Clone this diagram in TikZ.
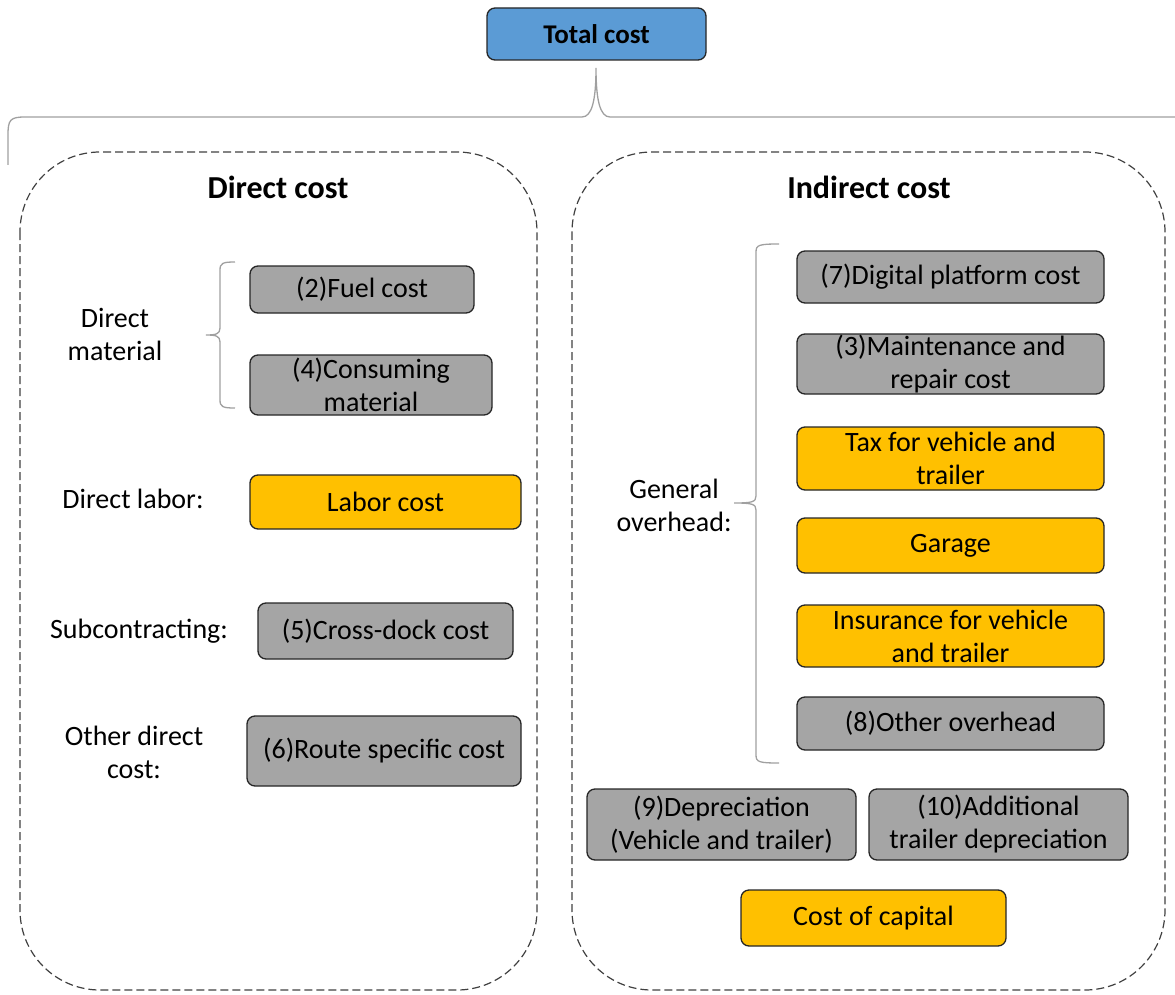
\documentclass[tikz,border=0pt]{standalone}
\usepackage{fontspec}
\setmainfont{Carlito}
\definecolor{boxgrau}{HTML}{A5A5A5}
\definecolor{boxgelb}{HTML}{FFC000}
\definecolor{boxblau}{HTML}{5B9BD5}
\definecolor{klammerfarbe}{HTML}{A0A0A0}

\def\textgr{\fontsize{28}{33}\selectfont}
% #1 tip x, #2 stem x, #3 end x, #4 top y, #5 tip y, #6 bottom y
\def\klammer#1#2#3#4#5#6{
	\draw[klammerlinie] (#3,#4) .. controls ({#2+3},#4) and (#2,{#4+1}) .. (#2,{#4+8})
		-- (#2,{#5-7}) .. controls (#2,{#5-1}) and ({#2-4},#5) .. (#1,#5)
		.. controls ({#2-4},#5) and (#2,{#5+1}) .. (#2,{#5+7})
		-- (#2,{#6-8}) .. controls (#2,{#6-1}) and ({#2+3},#6) .. (#3,#6);
}

\begin{document}
\begin{tikzpicture}[x=1pt,y=-1pt,
	kasten/.style={draw=black!85,line width=1.3pt,rounded corners=8pt,align=center,font=\textgr,inner sep=0pt},
	grau/.style={kasten,fill=boxgrau},
	gelb/.style={kasten,fill=boxgelb},
	beschr/.style={align=center,font=\textgr},
	titel/.style={font=\bfseries\fontsize{32}{38}\selectfont},
	region/.style={draw=black!75,dashed,dash pattern=on 8pt off 4pt,line width=1.2pt,rounded corners=80pt},
	klammerlinie/.style={draw=klammerfarbe,line width=1.3pt}]
\useasboundingbox (0,0) rectangle (1175,995);

% top
\node[kasten,fill=boxblau,font=\bfseries\fontsize{27}{32}\selectfont,minimum width=219pt,minimum height=52pt] (total) at (596.5,34) {Total cost};
\coordinate (spitze) at (596,68);
\coordinate (links) at (8,165);
\coordinate (rechts) at (1175,117);
\draw[klammerlinie] (links) -- (8,135) .. controls (8,120) and (10,117) .. (25,117)
	-- (582,117) .. controls (592,117) and (596,100) .. (spitze)
	.. controls (596,100) and (600,117) .. (610,117) -- (rechts);

% regions
\draw[region] (20,152) rectangle (537,990);
\draw[region] (572,152) rectangle (1165,990);
\node[titel] (dtitel) at (278,187) {Direct cost};
\node[titel] (ititel) at (869,187) {Indirect cost};

% direct cost
\node[beschr] (dmat) at (115,334) {Direct\\material};
\node[grau,minimum width=224pt,minimum height=47pt] (fuel) at (362,289.5) {(2)Fuel cost};
\node[grau,minimum width=242pt,minimum height=60pt] (consum) at (371,385) {(4)Consuming\\material};
\klammer{206}{220}{235}{262}{335}{408}
\node[beschr] (dlab) at (133,499) {Direct labor:};
\node[gelb,minimum width=271pt,minimum height=54pt] (labor) at (385.5,502) {Labor cost};
\node[beschr] (subc) at (139,631) {Subcontracting:};
\node[grau,minimum width=255pt,minimum height=56pt] (cross) at (385.5,631) {(5)Cross-dock cost};
\node[beschr] (odir) at (134,752) {Other direct\\cost:};
\node[grau,minimum width=274pt,minimum height=70pt] (route) at (384,751) {(6)Route specific cost};

% indirect cost
\node[beschr] (genov) at (674,505) {General\\overhead:};
\klammer{734}{756}{779}{244}{503}{763}
\node[grau,minimum width=307pt,minimum height=52pt] (digital) at (950.5,277) {(7)Digital platform cost};
\node[grau,minimum width=307pt,minimum height=60pt] (maint) at (950.5,364) {(3)Maintenance and\\repair cost};
\node[gelb,minimum width=307pt,minimum height=63pt] (tax) at (950.5,458.5) {Tax for vehicle and\\trailer};
\node[gelb,minimum width=307pt,minimum height=55pt] (garage) at (950.5,545.5) {Garage};
\node[gelb,minimum width=307pt,minimum height=62pt] (insur) at (950.5,636) {Insurance for vehicle\\and trailer};
\node[grau,minimum width=307pt,minimum height=53pt] (other) at (950.5,723.5) {(8)Other overhead};
\node[grau,minimum width=269pt,minimum height=71pt] (deprec) at (721.5,824.5) {(9)Depreciation\\(Vehicle and trailer)};
\node[grau,minimum width=259pt,minimum height=71pt] (addit) at (998.5,824.5) {(10)Additional\\trailer depreciation};
\node[gelb,minimum width=265pt,minimum height=56pt] (capital) at (873.5,918) {Cost of capital};
\end{tikzpicture}
\end{document}
